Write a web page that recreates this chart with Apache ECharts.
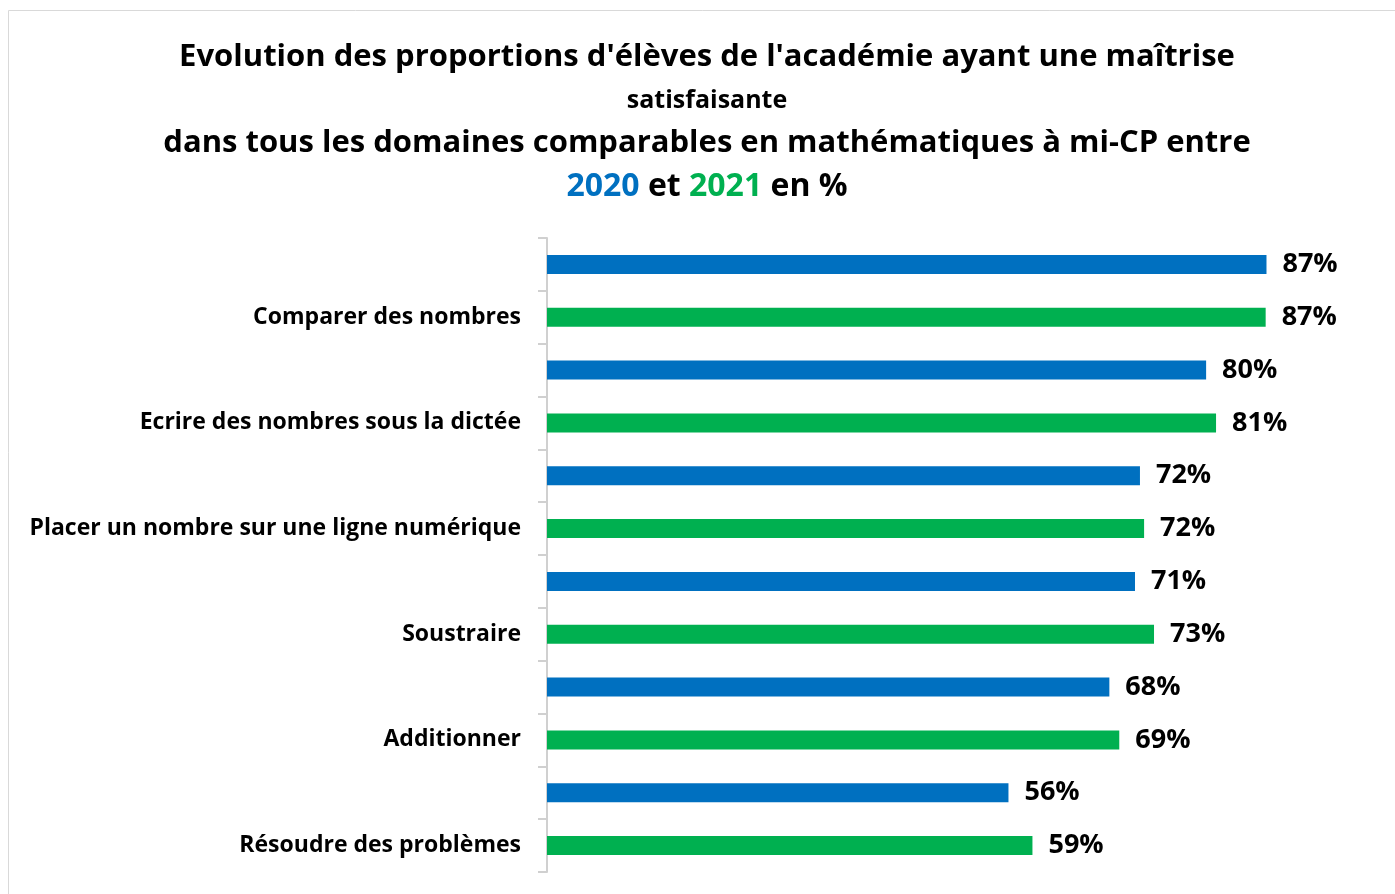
<!DOCTYPE html>
<html>
<head>
<meta charset="utf-8">
<script src="https://cdn.jsdelivr.net/npm/echarts@6/dist/echarts.min.js"></script>
<style>
  html, body { margin: 0; padding: 0; background: #fff; }
  #chart { width: 1395px; height: 894px; }
</style>
</head>
<body>
<div id="chart"></div>
<script>
// domaines (de haut en bas)
const categories = [
  'Comparer des nombres',
  'Ecrire des nombres sous la dictée',
  'Placer un nombre sur une ligne numérique',
  'Soustraire',
  'Additionner',
  'Résoudre des problèmes'
]
// proportions (%)
const values2020 = [87.0, 79.7, 71.7, 71.1, 68.0, 55.8]
const values2021 = [86.9, 80.9, 72.2, 73.4, 69.2, 58.7]

const blue = '#0070C0'
const green = '#00B050'
const font = 'Open Sans'

// une ligne 2020 puis une ligne 2021 par domaine, libellé sur la ligne 2021
const rows = []
const data2020 = []
const data2021 = []
categories.forEach((c, i) => {
  rows.push(' ' + i)
  data2020.push(values2020[i])
  data2021.push(null)
  rows.push(c)
  data2020.push(null)
  data2021.push(values2021[i])
})

const labelStyle = {
  show: true,
  position: 'right',
  distance: 16,
  color: '#000',
  fontFamily: font,
  fontWeight: 'bold',
  fontSize: 27,
  formatter: p => Math.round(p.value) + '%'
}

const chart = echarts.init(document.getElementById('chart'))
chart.setOption({
  animation: false,
  title: {
    left: 702,
    textAlign: 'center',
    top: 31,
    text: '{a|Evolution des proportions d\'élèves de l\'académie ayant une maîtrise}\n' +
      '{b|satisfaisante}\n' +
      '{a|dans tous les domaines comparables en mathématiques à mi-CP entre}\n' +
      '{c|2020}{e| et }{d|2021}{e| en %}',
    textStyle: {
      align: 'center',
      rich: {
        a: { fontFamily: font, fontWeight: 'bold', fontSize: 31, color: '#000', lineHeight: 43 },
        b: { fontFamily: font, fontWeight: 'bold', fontSize: 25, color: '#000', lineHeight: 43 },
        c: { fontFamily: font, fontWeight: 'bold', fontSize: 32, color: blue, lineHeight: 44 },
        d: { fontFamily: font, fontWeight: 'bold', fontSize: 32, color: green, lineHeight: 44 },
        e: { fontFamily: font, fontWeight: 'bold', fontSize: 32, color: '#000', lineHeight: 44 }
      }
    }
  },
  graphic: [{
    type: 'rect',
    shape: { x: 8.5, y: 10.5, width: 1400, height: 900 },
    style: { fill: 'none', stroke: '#d9d9d9', lineWidth: 1 },
    silent: true
  }],
  grid: { left: 547, right: 21, top: 238, bottom: 22 },
  xAxis: {
    type: 'value',
    min: 0,
    max: 100,
    show: false
  },
  yAxis: {
    type: 'category',
    inverse: true,
    data: rows,
    axisLine: { show: true, lineStyle: { color: '#d0d0d0', width: 2 } },
    axisTick: { show: true, interval: 0, length: 9, lineStyle: { color: '#d0d0d0', width: 2 } },
    axisLabel: {
      interval: 0,
      margin: 26,
      color: '#000',
      fontFamily: font,
      fontWeight: 'bold',
      fontSize: 23,
      formatter: v => v.startsWith(' ') ? '' : v
    },
    splitLine: { show: false }
  },
  series: [
    {
      name: '2020',
      type: 'bar',
      data: data2020,
      barWidth: 19,
      barGap: '-100%',
      itemStyle: { color: blue },
      label: labelStyle
    },
    {
      name: '2021',
      type: 'bar',
      data: data2021,
      barWidth: 19,
      itemStyle: { color: green },
      label: labelStyle
    }
  ]
})
</script>
</body>
</html>
